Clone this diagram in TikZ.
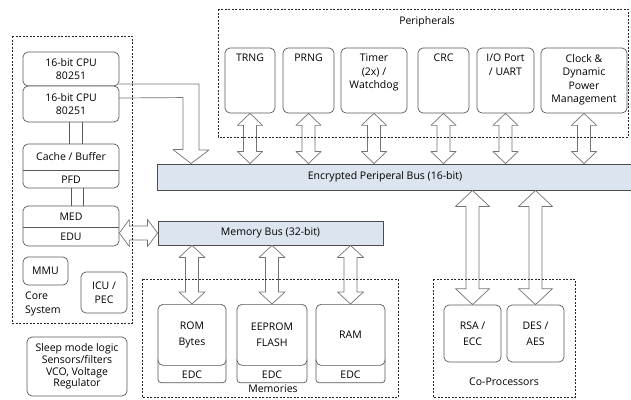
\documentclass[tikz,border=0pt]{standalone}
\usepackage{fontspec}
\setmainfont{Open Sans}
\usetikzlibrary{calc}
\definecolor{busblue}{RGB}{220,228,239}

\begin{document}
\begin{tikzpicture}[x=1pt,y=-1pt,line join=round,
    font=\fontsize{10.5}{13.5}\selectfont,
    box/.style={draw=black!65,line width=0.7pt,rounded corners=5pt,fill=white,inner sep=0pt},
    grp/.style={draw=black!85,line width=0.8pt,dash pattern=on 2pt off 1.5pt},
    bus/.style={draw=black!70,line width=0.9pt,fill=busblue,inner sep=0pt},
    link/.style={draw=black!65,line width=0.7pt},
    harrow/.style={draw=black!55,line width=0.7pt,fill=white}]
    \useasboundingbox (0,0) rectangle (631,399);
    % hollow double arrow, top end #1, bottom end #2, half head width #3, head length #4
    \def\vdarr#1#2#3#4{\draw[harrow] let \p1=(#1), \p2=(#2) in
        (\x1,\y1) -- (\x1+#3pt,\y1-#4pt) -- (\x1+6.5pt,\y1-#4pt) -- (\x1+6.5pt,\y2+#4pt)
        -- (\x1+#3pt,\y2+#4pt) -- (\x1,\y2) -- (\x1-#3pt,\y2+#4pt) -- (\x1-6.5pt,\y2+#4pt)
        -- (\x1-6.5pt,\y1-#4pt) -- (\x1-#3pt,\y1-#4pt) -- cycle;}

    % buses
    \node[bus,minimum width=480,minimum height=26,anchor=west] (pbus) at (157,177) {};
    \node (pbus-t) at (385,177) {Encrypted Periperal Bus (16-bit)};
    \node[bus,minimum width=225,minimum height=24] (mbus) at (270.5,233) {Memory Bus (32-bit)};

    % CPU onto the peripheral bus (drawn below the CPU boxes)
    \coordinate (cpuA-o) at (119,84);
    \coordinate (cpuB-o) at (119,98);
    \draw[harrow] (cpuA-o) -- ++(80,0) -- ++(0,66) -- ++(10,0)
        -- ([xshift=34]pbus.north west) -- ++(-18,-14) -- ++(10,0) -- ++(0,-52)
        -- (cpuB-o);

    % core system
    \node[box,minimum width=96,minimum height=34,align=center] (cpuA) at (71,69) {16-bit CPU\\80251};
    \node[box,minimum width=96,minimum height=36,align=center] (cpuB) at (71,104) {16-bit CPU\\80251};
    \node[box,minimum width=96,minimum height=44] (cache) at (71,166) {};
    \draw[link] ($(cache.west)+(0,4)$) -- ($(cache.east)+(0,4)$);
    \node (cache-t) at (71,157) {Cache / Buffer};
    \node (pfd-t) at (71,179.5) {PFD};
    \node[box,minimum width=96,minimum height=40] (med) at (71,226) {};
    \draw[link] ($(med.west)+(0,1)$) -- ($(med.east)+(0,1)$);
    \node (med-t) at (71,216.5) {MED};
    \node (edu-t) at (71,237) {EDU};
    \draw[link] ([xshift=-2]cpuB.south) -- ([xshift=-2]cache.north);
    \draw[link] ([xshift=11]cpuB.south) -- ([xshift=11]cache.north);
    \draw[link] (cache.south) -- (med.north);
    \draw[link] ([xshift=12]cache.south) -- ([xshift=12]med.north);
    \node[box,minimum width=45,minimum height=28] (mmu) at (45.5,271) {MMU};
    \node[box,minimum width=46,minimum height=41,align=center] (icu) at (104,292.5) {ICU /\\PEC};
    \node[anchor=west,align=left,inner sep=0pt] (core-t) at (25,304) {Core\\System};
    \node[box,minimum width=100,minimum height=59,align=center,
        font=\fontsize{10.5}{11.7}\selectfont] (sleep) at (77,366.5)
        {Sleep mode logic\\Sensors/filters\\VCO, Voltage\\Regulator};

    % core onto the memory bus
    \draw[harrow] let \p1=(med.east |- mbus.west), \p2=(mbus.west) in
        (\x1,\y1) -- (\x1+10pt,\y1+13.5pt) -- (\x1+10pt,\y1+7pt) -- (\x2-10pt,\y1+7pt)
        -- (\x2-10pt,\y1+13.5pt) -- (\x2,\y1) -- (\x2-10pt,\y1-13.5pt) -- (\x2-10pt,\y1-7pt)
        -- (\x1+10pt,\y1-7pt) -- (\x1+10pt,\y1-13.5pt) -- cycle;

    % peripherals
    \foreach \nm/\cx/\w/\txt in {trng/250/50/TRNG, prng/308.5/51/PRNG,
        timer/374/66/{Timer\\(2x) /\\Watchdog}, crc/443.5/51/CRC,
        io/505.5/57/{I/O Port\\/ UART}, clock/584/86/{Clock \&\\Dynamic\\Power\\Management}}
    {
        \node[box,minimum width=\w,minimum height=65] (\nm) at (\cx,80.5) {};
        \node[anchor=north,align=center] (\nm-t) at ([yshift=-3]\nm.north) {\txt};
        \vdarr{\nm.south}{\nm.south |- pbus.north}{12.5}{12}
    }

    % memories
    \foreach \nm/\cx/\w/\txt in {rom/192/68/{ROM\\Bytes}, eeprom/272/70/{EEPROM\\FLASH}, ram/350.5/69/RAM}
    {
        \node[box,rounded corners=3pt,minimum width=\w,minimum height=26,anchor=south] (\nm-edc) at (\cx,383) {};
        \node (\nm-edc-t) at (\cx,374.5) {EDC};
        \node[box,minimum width=\w,minimum height=61,anchor=north,align=center,
            font=\fontsize{10.5}{15.5}\selectfont] (\nm) at (\cx,304) {\txt};
        \vdarr{\nm.north |- mbus.south}{\nm.north}{13}{12}
    }

    % co-processors
    \node[box,minimum width=57,minimum height=57,align=center,
        font=\fontsize{10.5}{15.5}\selectfont] (rsa) at (472.5,333.5) {RSA /\\ECC};
    \node[box,minimum width=57,minimum height=57,align=center,
        font=\fontsize{10.5}{15.5}\selectfont] (des) at (535.5,333.5) {DES /\\AES};
    \foreach \nm in {rsa,des}
    {
        \vdarr{\nm.north |- pbus.south}{\nm.north}{17}{16}
    }

    % groups
    \draw[grp] (12,36) rectangle (132,323);
    \draw[grp] (218,9) rectangle (628,137);
    \draw[grp] (142,279) rectangle (398,397);
    \draw[grp] (433,279) rectangle (575,397);
    \node (periph-t) at (427,22) {Peripherals};
    \node (mem-t) at (273,389) {Memories};
    \node (copro-t) at (504,382) {Co-Processors};
\end{tikzpicture}
\end{document}
